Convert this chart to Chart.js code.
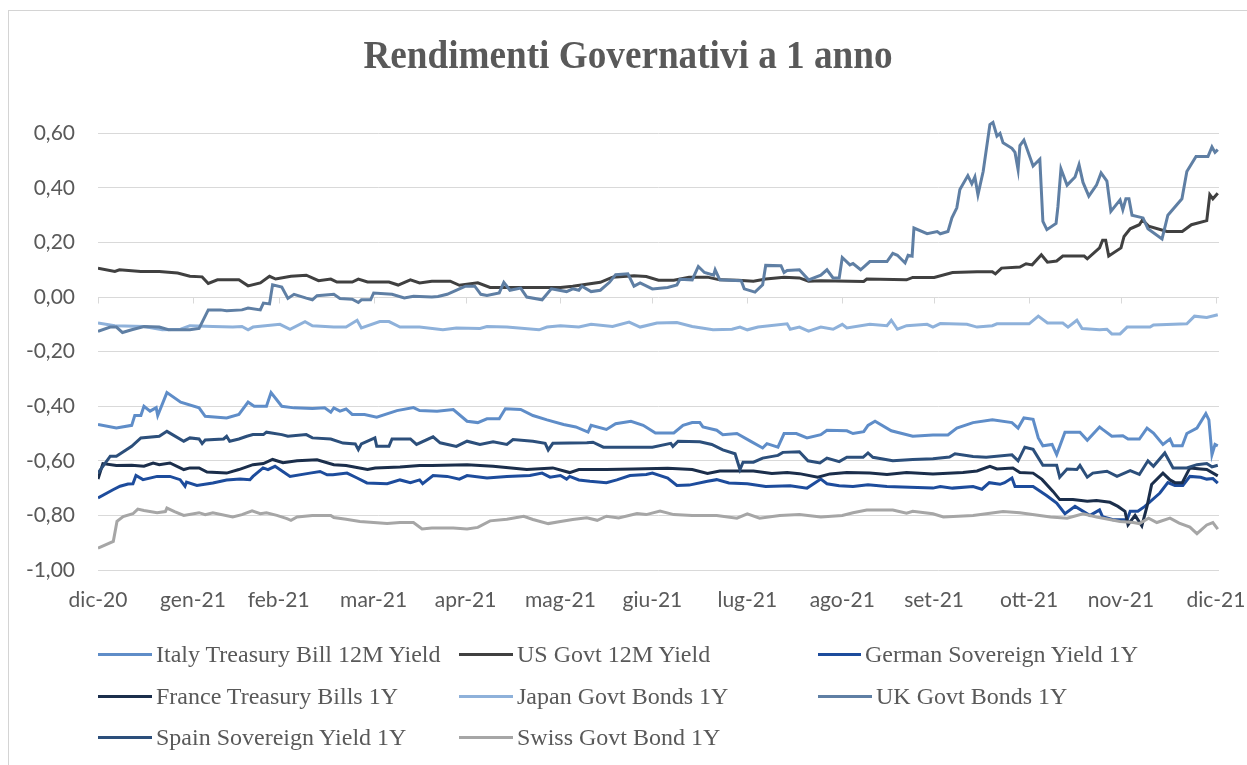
<!DOCTYPE html>
<html>
<head>
<meta charset="utf-8">
<script src="https://cdn.jsdelivr.net/npm/chart.js@4"></script>
<style>
  body { margin: 0; background: #fff; }
  #wrap { position: relative; width: 1247px; height: 765px; overflow: hidden; }
  #frame { position: absolute; left: 8px; top: 10px; width: 1300px; height: 800px;
           border-top: 1px solid #d4d4d4; border-left: 1px solid #d4d4d4; }
  #box { position: absolute; left: 0; top: 0; width: 1247px; height: 765px; }
  #title { position: absolute; left: 0; top: 35px; width: 1256px; text-align: center;
           font-family: "Liberation Serif", "Times New Roman", serif; font-weight: bold;
           font-size: 40px; line-height: 40px; color: #595959;
           transform: scaleX(0.93); transform-origin: 628px 0; }
  #legend { position: absolute; left: 98px; top: 634px; display: grid;
            grid-template-columns: 361px 359px 320px; grid-auto-rows: 41.5px;
            font-family: "Liberation Serif", "Times New Roman", serif; font-size: 24px; color: #595959; }
  .item { display: flex; align-items: center; white-space: nowrap; }
  .swatch { width: 54px; height: 3px; margin-right: 4px; }
</style>
</head>
<body>
<div id="wrap">
  <div id="frame"></div>
  <div id="box"><canvas id="graph"></canvas></div>
  <div id="title">Rendimenti Governativi a 1 anno</div>
  <div id="legend"></div>
</div>
<script>
// x = days from the first tick (dic-20), y = yield in %
const monthDays = [0, 31, 59, 90, 120, 151, 181, 212, 243, 273, 304, 334, 365];
const monthLabels = ['dic-20', 'gen-21', 'feb-21', 'mar-21', 'apr-21', 'mag-21', 'giu-21',
                     'lug-21', 'ago-21', 'set-21', 'ott-21', 'nov-21', 'dic-21'];
const yTicks = [-1, -0.8, -0.6, -0.4, -0.2, 0, 0.2, 0.4, 0.6];

const seriesNames = ['Italy Treasury Bill 12M Yield', 'US Govt 12M Yield', 'German Sovereign Yield 1Y',
                     'France Treasury Bills 1Y', 'Japan Govt Bonds 1Y', 'UK Govt Bonds 1Y',
                     'Spain Sovereign Yield 1Y', 'Swiss Govt Bond 1Y'];
const seriesColors = ['#5f8dc8', '#404040', '#1d4c9c', '#1b2e4b', '#8eb1da', '#5f7fa4', '#2c4f7b', '#a6a6a6'];

const italyYield = [[0,-0.467],[6,-0.48],[11,-0.47],[12,-0.434],[14,-0.434],[15,-0.40],[17,-0.418],[19,-0.405],[19.5,-0.434],[22.5,-0.35],[27,-0.385],[33,-0.406],[35,-0.437],[42,-0.443],[46,-0.43],[49,-0.385],[51,-0.40],[55,-0.40],[56.5,-0.35],[60,-0.40],[64,-0.406],[70,-0.408],[74,-0.406],[76,-0.422],[77,-0.406],[79,-0.418],[81,-0.41],[83,-0.43],[87,-0.43],[91,-0.44],[97.6,-0.416],[103,-0.405],[105,-0.416],[110.7,-0.418],[116,-0.412],[120.5,-0.455],[124,-0.46],[127,-0.446],[131,-0.446],[133,-0.409],[138,-0.412],[142,-0.434],[146.6,-0.45],[152,-0.467],[156,-0.476],[160,-0.495],[161,-0.47],[166,-0.485],[169,-0.464],[174,-0.455],[178,-0.47],[182,-0.498],[188,-0.498],[191,-0.47],[194,-0.46],[196.5,-0.46],[197.5,-0.476],[202,-0.488],[204,-0.504],[208.6,-0.50],[213,-0.528],[217,-0.553],[218.4,-0.537],[222,-0.55],[224,-0.50],[228,-0.50],[231.5,-0.516],[236,-0.504],[238,-0.488],[244.5,-0.49],[246.5,-0.50],[250,-0.493],[251.4,-0.47],[253.7,-0.455],[259,-0.49],[266,-0.51],[272.6,-0.505],[277.5,-0.505],[280.4,-0.48],[285.7,-0.46],[292,-0.45],[298.4,-0.46],[300.4,-0.48],[302.3,-0.443],[305.3,-0.448],[307,-0.516],[308.5,-0.545],[311.5,-0.54],[313,-0.577],[315.7,-0.495],[320.6,-0.495],[323,-0.525],[327,-0.476],[328,-0.485],[331,-0.51],[334.6,-0.508],[336.3,-0.52],[340,-0.52],[342.5,-0.48],[344.6,-0.498],[347.7,-0.54],[350,-0.52],[351,-0.545],[354,-0.545],[355.5,-0.50],[358.8,-0.48],[361.7,-0.427],[362.7,-0.45],[363.7,-0.577],[364.7,-0.54],[365.6,-0.545]];

const usYield = [[0,0.106],[5.5,0.094],[7,0.10],[14,0.094],[20,0.094],[26,0.088],[30,0.076],[34,0.074],[36,0.05],[39,0.063],[46,0.063],[49,0.041],[53,0.052],[56,0.076],[58,0.066],[63,0.076],[68,0.08],[72,0.06],[76,0.066],[78,0.055],[83,0.055],[85,0.066],[88,0.055],[95,0.055],[98,0.044],[102,0.063],[105,0.052],[109,0.058],[115,0.058],[118,0.043],[124,0.052],[128,0.035],[151,0.035],[155,0.04],[164,0.054],[168,0.073],[175,0.078],[179,0.075],[183,0.062],[188,0.062],[193,0.073],[199,0.073],[203,0.063],[209,0.062],[214,0.058],[218,0.066],[224,0.073],[229,0.07],[232,0.058],[236,0.06],[250,0.057],[251,0.066],[264,0.063],[266,0.072],[273,0.072],[279,0.09],[287,0.093],[292,0.093],[293,0.085],[295,0.106],[301,0.11],[303,0.122],[305,0.118],[308,0.155],[310,0.128],[313,0.132],[315,0.15],[322,0.15],[323,0.14],[327,0.18],[328,0.208],[329,0.208],[330,0.15],[334,0.18],[335,0.222],[337,0.25],[340,0.265],[341,0.283],[343,0.26],[349,0.24],[354,0.24],[357,0.265],[362,0.28],[363,0.375],[364,0.36],[365.6,0.38]];

const germanYield = [[0,-0.736],[4.9,-0.706],[7.2,-0.693],[9.8,-0.685],[11.4,-0.684],[12.4,-0.654],[14.7,-0.669],[19.3,-0.657],[23.5,-0.657],[26.8,-0.669],[28.4,-0.693],[28.9,-0.678],[32.3,-0.69],[37.5,-0.681],[42,-0.67],[46.4,-0.667],[49.6,-0.669],[50.6,-0.657],[53.9,-0.626],[55.5,-0.632],[57.8,-0.62],[62.7,-0.657],[69.2,-0.645],[72.5,-0.639],[74.8,-0.651],[76.7,-0.651],[81.3,-0.645],[84.6,-0.663],[87.8,-0.681],[94.4,-0.684],[98.6,-0.67],[102,-0.68],[105,-0.67],[106,-0.684],[109.4,-0.654],[114,-0.657],[118,-0.667],[120.5,-0.654],[127,-0.663],[133.5,-0.657],[141,-0.654],[145,-0.645],[147.6,-0.66],[151,-0.654],[153,-0.667],[154,-0.657],[157,-0.67],[160.6,-0.675],[166,-0.68],[169.4,-0.67],[173.7,-0.654],[179,-0.65],[181,-0.645],[186,-0.663],[189,-0.69],[193,-0.689],[199,-0.675],[202,-0.669],[206,-0.681],[212,-0.684],[218,-0.694],[226,-0.691],[231.5,-0.70],[236,-0.667],[238,-0.684],[242,-0.691],[246.5,-0.694],[251.4,-0.688],[257.6,-0.694],[265,-0.697],[272.6,-0.70],[275,-0.694],[279,-0.70],[285.7,-0.694],[288.6,-0.704],[291,-0.68],[294.5,-0.686],[296,-0.68],[298.4,-0.663],[299.4,-0.694],[305.3,-0.694],[309.8,-0.728],[313,-0.755],[315.7,-0.794],[319,-0.767],[323.9,-0.80],[327,-0.78],[328,-0.805],[331.4,-0.816],[336,-0.816],[337,-0.785],[339.5,-0.785],[341.8,-0.767],[346.7,-0.718],[349.3,-0.68],[351.6,-0.69],[354.2,-0.69],[356.5,-0.657],[360,-0.66],[362,-0.667],[364,-0.665],[365.6,-0.682]];

const franceYield = [[0,-0.667],[1.6,-0.61],[6,-0.617],[11,-0.616],[15,-0.62],[18,-0.608],[20,-0.614],[23.5,-0.608],[28,-0.632],[30,-0.626],[33,-0.626],[35.6,-0.641],[42,-0.645],[46,-0.632],[50.6,-0.614],[54,-0.61],[57,-0.595],[60.4,-0.607],[65,-0.60],[71.5,-0.596],[77,-0.614],[81,-0.617],[88,-0.632],[90.5,-0.626],[98.6,-0.623],[105,-0.617],[109,-0.617],[120.5,-0.614],[129,-0.62],[140,-0.632],[148.5,-0.626],[154,-0.643],[157,-0.632],[166,-0.632],[175,-0.63],[186,-0.627],[194,-0.632],[199,-0.646],[203,-0.637],[207,-0.637],[214,-0.637],[220,-0.646],[225,-0.643],[229,-0.647],[235,-0.66],[239,-0.648],[244.5,-0.643],[252,-0.645],[257.6,-0.65],[264,-0.643],[272.6,-0.648],[282.4,-0.643],[287,-0.637],[291.2,-0.62],[293.5,-0.63],[298.7,-0.626],[301,-0.643],[305.3,-0.645],[308.2,-0.668],[311.8,-0.712],[314,-0.742],[318.3,-0.742],[323,-0.748],[326,-0.745],[330.4,-0.752],[333,-0.767],[335.3,-0.785],[336.3,-0.834],[338.6,-0.80],[340.8,-0.838],[342.5,-0.767],[344,-0.687],[347.7,-0.645],[350,-0.67],[351.6,-0.68],[354,-0.68],[356.5,-0.626],[360,-0.63],[362,-0.632],[365.6,-0.655]];

const japanYield = [[0,-0.095],[5.5,-0.105],[15,-0.108],[21,-0.12],[27,-0.118],[30,-0.105],[37.5,-0.108],[44,-0.11],[47,-0.108],[49,-0.12],[50.6,-0.11],[59.4,-0.1],[62.7,-0.118],[67.6,-0.09],[70,-0.105],[77,-0.11],[81,-0.11],[84.6,-0.085],[86,-0.113],[92,-0.09],[95,-0.09],[98.6,-0.11],[105,-0.11],[112.6,-0.12],[117,-0.113],[124.7,-0.115],[127,-0.108],[133.5,-0.11],[144,-0.12],[146.6,-0.11],[151,-0.105],[157,-0.11],[161,-0.10],[168,-0.108],[173.4,-0.092],[177,-0.11],[182.5,-0.095],[189,-0.093],[194,-0.108],[200.8,-0.12],[207,-0.118],[209.6,-0.11],[212,-0.12],[215.5,-0.11],[225,-0.098],[226,-0.118],[229,-0.11],[232,-0.125],[236,-0.11],[240,-0.118],[243,-0.10],[244.5,-0.113],[252,-0.10],[257.6,-0.105],[259,-0.085],[261,-0.118],[264,-0.105],[270.7,-0.10],[272.6,-0.11],[275,-0.097],[283.7,-0.10],[287,-0.11],[292,-0.105],[293.5,-0.098],[301,-0.098],[304,-0.098],[307,-0.07],[310,-0.095],[315,-0.095],[316.7,-0.11],[319.6,-0.085],[321.3,-0.115],[327,-0.12],[329.4,-0.118],[331,-0.135],[333.7,-0.135],[336,-0.11],[343.5,-0.11],[344.6,-0.102],[355.5,-0.098],[358,-0.07],[362,-0.075],[365.6,-0.065]];

const ukYield = [[0,-0.126],[4,-0.11],[6,-0.11],[8,-0.13],[11,-0.12],[15,-0.108],[20,-0.11],[23,-0.12],[30,-0.12],[33,-0.115],[36,-0.047],[40,-0.047],[42,-0.05],[47,-0.047],[49,-0.04],[53,-0.047],[54,-0.022],[56,-0.025],[57,0.045],[60,0.037],[62,-0.005],[64,0.01],[68,-0.004],[70,-0.01],[71.5,0.005],[77,0.01],[79,-0.005],[83,-0.008],[85,-0.02],[86,-0.01],[89,-0.01],[90,0.015],[96,0.01],[100,-0.003],[103,0.003],[109,0.0],[111,0.002],[114,0.01],[118,0.03],[120,0.04],[123,0.04],[125,0.01],[127,0.006],[131,0.015],[132.5,0.054],[134.5,0.025],[138,0.033],[140,0.0],[145,-0.01],[148,0.03],[153,0.02],[155,0.03],[157,0.025],[158,0.04],[161,0.02],[164,0.025],[167,0.054],[169,0.082],[173,0.085],[175,0.04],[177,0.052],[181,0.03],[186,0.035],[189,0.044],[190,0.065],[194,0.063],[196,0.112],[198,0.09],[201,0.08],[201.5,0.10],[203,0.063],[210,0.06],[211,0.03],[214.5,0.018],[217,0.045],[218,0.116],[223,0.115],[224,0.09],[225,0.097],[229,0.1],[232,0.063],[236,0.08],[238,0.1],[240,0.07],[242,0.07],[243,0.145],[245.5,0.118],[246.5,0.123],[249,0.1],[252,0.13],[257.6,0.13],[259.5,0.16],[261,0.153],[263.5,0.125],[264.5,0.153],[265.8,0.15],[266.4,0.253],[270.7,0.232],[274,0.24],[275,0.232],[277.5,0.24],[278.8,0.29],[280.4,0.327],[281.4,0.394],[284,0.445],[285.3,0.415],[286.3,0.44],[287.3,0.375],[289,0.46],[291.2,0.632],[292.2,0.64],[293.5,0.59],[294.5,0.60],[295.5,0.565],[298.4,0.545],[299.4,0.53],[300.4,0.467],[301,0.555],[302.3,0.575],[305.3,0.48],[307.5,0.505],[308.5,0.277],[309.8,0.247],[312.8,0.27],[313.4,0.33],[314.4,0.47],[316.4,0.41],[319,0.44],[320.3,0.485],[321.6,0.42],[323.5,0.37],[326,0.41],[327.5,0.455],[329.4,0.425],[330.7,0.314],[333.7,0.356],[334.6,0.32],[335.6,0.36],[336.6,0.36],[337.6,0.30],[341.2,0.29],[342.8,0.25],[347.4,0.213],[349.3,0.30],[353.9,0.36],[355.5,0.46],[358.5,0.515],[362.4,0.515],[363.7,0.55],[364.7,0.53],[365.6,0.54]];

const spainYield = [[0,-0.645],[4,-0.583],[6,-0.583],[11,-0.547],[14,-0.516],[20,-0.51],[22.5,-0.492],[28,-0.528],[30,-0.516],[33,-0.52],[34,-0.537],[35,-0.524],[41,-0.52],[42,-0.51],[43,-0.528],[46,-0.52],[48.6,-0.51],[50.6,-0.504],[54,-0.504],[55,-0.495],[60,-0.504],[62,-0.51],[68,-0.504],[70,-0.516],[76,-0.52],[80,-0.535],[84,-0.538],[85,-0.559],[86,-0.538],[90.4,-0.516],[91,-0.547],[95,-0.547],[96,-0.52],[102,-0.52],[104,-0.54],[109.4,-0.512],[111.7,-0.534],[117,-0.547],[120.5,-0.528],[124.7,-0.54],[129,-0.53],[133.5,-0.54],[135.5,-0.522],[142,-0.528],[146,-0.536],[147,-0.56],[148.5,-0.536],[159.6,-0.534],[161.6,-0.532],[165,-0.55],[181,-0.55],[187,-0.536],[187.7,-0.547],[189.4,-0.528],[196.5,-0.53],[200.4,-0.54],[204,-0.56],[208,-0.574],[209.6,-0.632],[210.6,-0.605],[214,-0.605],[217,-0.59],[222,-0.58],[223.6,-0.569],[229,-0.567],[231.8,-0.60],[235.7,-0.608],[238,-0.59],[242,-0.603],[244.5,-0.587],[249.8,-0.587],[251.4,-0.571],[253,-0.587],[259.5,-0.60],[266,-0.595],[272.6,-0.592],[278,-0.586],[279.8,-0.574],[285.7,-0.584],[290,-0.587],[298.4,-0.578],[300.4,-0.60],[302.6,-0.55],[305.3,-0.558],[308.5,-0.616],[313,-0.616],[314,-0.66],[316.4,-0.63],[319.6,-0.632],[320.6,-0.617],[323,-0.66],[324.8,-0.645],[329.4,-0.638],[332.7,-0.657],[337,-0.636],[340,-0.65],[342.8,-0.60],[344.6,-0.62],[348.3,-0.571],[351,-0.626],[355.5,-0.626],[358.8,-0.614],[362,-0.61],[363.7,-0.622],[365.6,-0.616]];

const swissYield = [[0,-0.92],[5,-0.895],[6.2,-0.822],[8.2,-0.804],[11.4,-0.794],[13,-0.777],[15,-0.782],[19.3,-0.79],[22,-0.786],[22.5,-0.773],[25,-0.786],[28,-0.80],[33,-0.79],[35,-0.797],[37.5,-0.79],[44,-0.806],[47,-0.797],[50.3,-0.783],[53,-0.794],[55,-0.79],[58.4,-0.80],[61.7,-0.812],[63,-0.818],[65,-0.806],[70,-0.80],[76,-0.80],[77,-0.808],[81,-0.814],[85.5,-0.822],[90,-0.826],[94.4,-0.83],[98.6,-0.826],[103,-0.826],[105.8,-0.85],[109,-0.846],[116,-0.846],[120.5,-0.85],[124,-0.844],[128,-0.82],[133.5,-0.814],[139,-0.803],[142,-0.815],[147,-0.83],[151,-0.822],[155,-0.815],[159.6,-0.809],[163,-0.818],[166,-0.803],[170,-0.809],[176,-0.793],[179,-0.797],[183.5,-0.784],[188,-0.797],[194,-0.80],[202,-0.80],[208.6,-0.81],[212,-0.794],[216,-0.81],[222.6,-0.80],[229,-0.797],[236,-0.806],[243,-0.80],[246.5,-0.79],[251,-0.78],[259.5,-0.78],[264,-0.792],[266,-0.785],[272.6,-0.794],[276,-0.806],[285.7,-0.80],[295.5,-0.786],[301,-0.79],[311,-0.806],[316.4,-0.81],[321.6,-0.794],[326,-0.806],[333.7,-0.822],[338,-0.826],[340,-0.83],[343,-0.81],[345.7,-0.826],[350,-0.81],[353,-0.828],[356.5,-0.843],[358.8,-0.867],[362,-0.835],[364,-0.826],[365.6,-0.85]];

const seriesData = [italyYield, usYield, germanYield, franceYield, japanYield, ukYield, spainYield, swissYield];

// small tick marks under the zero line, one per month
const zeroTicks = {
    id: 'zeroTicks',
    beforeDatasetsDraw(chart) {
        const { ctx, scales: { x, y } } = chart;
        const y0 = Math.round(y.getPixelForValue(0)) + 0.5;
        ctx.save();
        ctx.strokeStyle = '#d9d9d9';
        ctx.lineWidth = 1;
        ctx.beginPath();
        monthDays.forEach(d => {
            const px = Math.round(x.getPixelForValue(d)) + 0.5;
            ctx.moveTo(px, y0);
            ctx.lineTo(px, y0 + 6);
        });
        ctx.stroke();
        ctx.restore();
    }
};

Chart.defaults.font.family = 'Lato, "Liberation Sans", sans-serif';
Chart.defaults.color = '#595959';

const ctx = document.getElementById('graph').getContext('2d');
const chart = new Chart(ctx, {
    type: 'line',
    data: {
        datasets: seriesNames.map((name, i) => ({
            label: name,
            data: seriesData[i].map(([x, y]) => ({ x, y })),
            borderColor: seriesColors[i],
            backgroundColor: seriesColors[i],
            borderWidth: 3,
            pointRadius: 0,
            tension: 0,
            order: seriesNames.length - i,
        })),
    },
    options: {
        responsive: true,
        maintainAspectRatio: false,
        animation: false,
        layout: { padding: { left: 0, right: 28, top: 106, bottom: 0 } },
        plugins: {
            legend: { display: false },
            tooltip: { enabled: false },
            title: { display: false },
        },
        scales: {
            x: {
                type: 'linear',
                min: 0,
                max: 366,
                grid: { display: false, drawTicks: false },
                border: { display: false },
                ticks: {
                    font: { size: 21 },
                    color: '#595959',
                    padding: 18,
                    maxRotation: 0,
                    autoSkip: false,
                    callback: (value) => monthLabels[monthDays.indexOf(value)],
                },
                afterBuildTicks: (scale) => { scale.ticks = monthDays.map(v => ({ value: v })); },
                afterFit: (scale) => { scale.height = 195; scale.paddingLeft = 0; scale.paddingRight = 0; },
            },
            y: {
                min: -1,
                max: 0.7,
                grid: { color: '#d9d9d9', lineWidth: 1, drawTicks: false },
                border: { display: false },
                ticks: {
                    font: { size: 21 },
                    color: '#595959',
                    padding: 23,
                    callback: (value) => value.toFixed(2).replace('.', ','),
                },
                afterBuildTicks: (scale) => { scale.ticks = yTicks.map(v => ({ value: v })); },
                afterFit: (scale) => { scale.width = 98; scale.paddingTop = 0; scale.paddingBottom = 0; },
            },
        },
    },
    plugins: [zeroTicks],
});

// legend in three columns, like the original sheet
const legendEl = document.getElementById('legend');
chart.data.datasets.forEach(ds => {
    const item = document.createElement('div');
    item.className = 'item';
    const sw = document.createElement('span');
    sw.className = 'swatch';
    sw.style.background = ds.borderColor;
    item.appendChild(sw);
    item.appendChild(document.createTextNode(ds.label));
    legendEl.appendChild(item);
});
</script>
</body>
</html>
